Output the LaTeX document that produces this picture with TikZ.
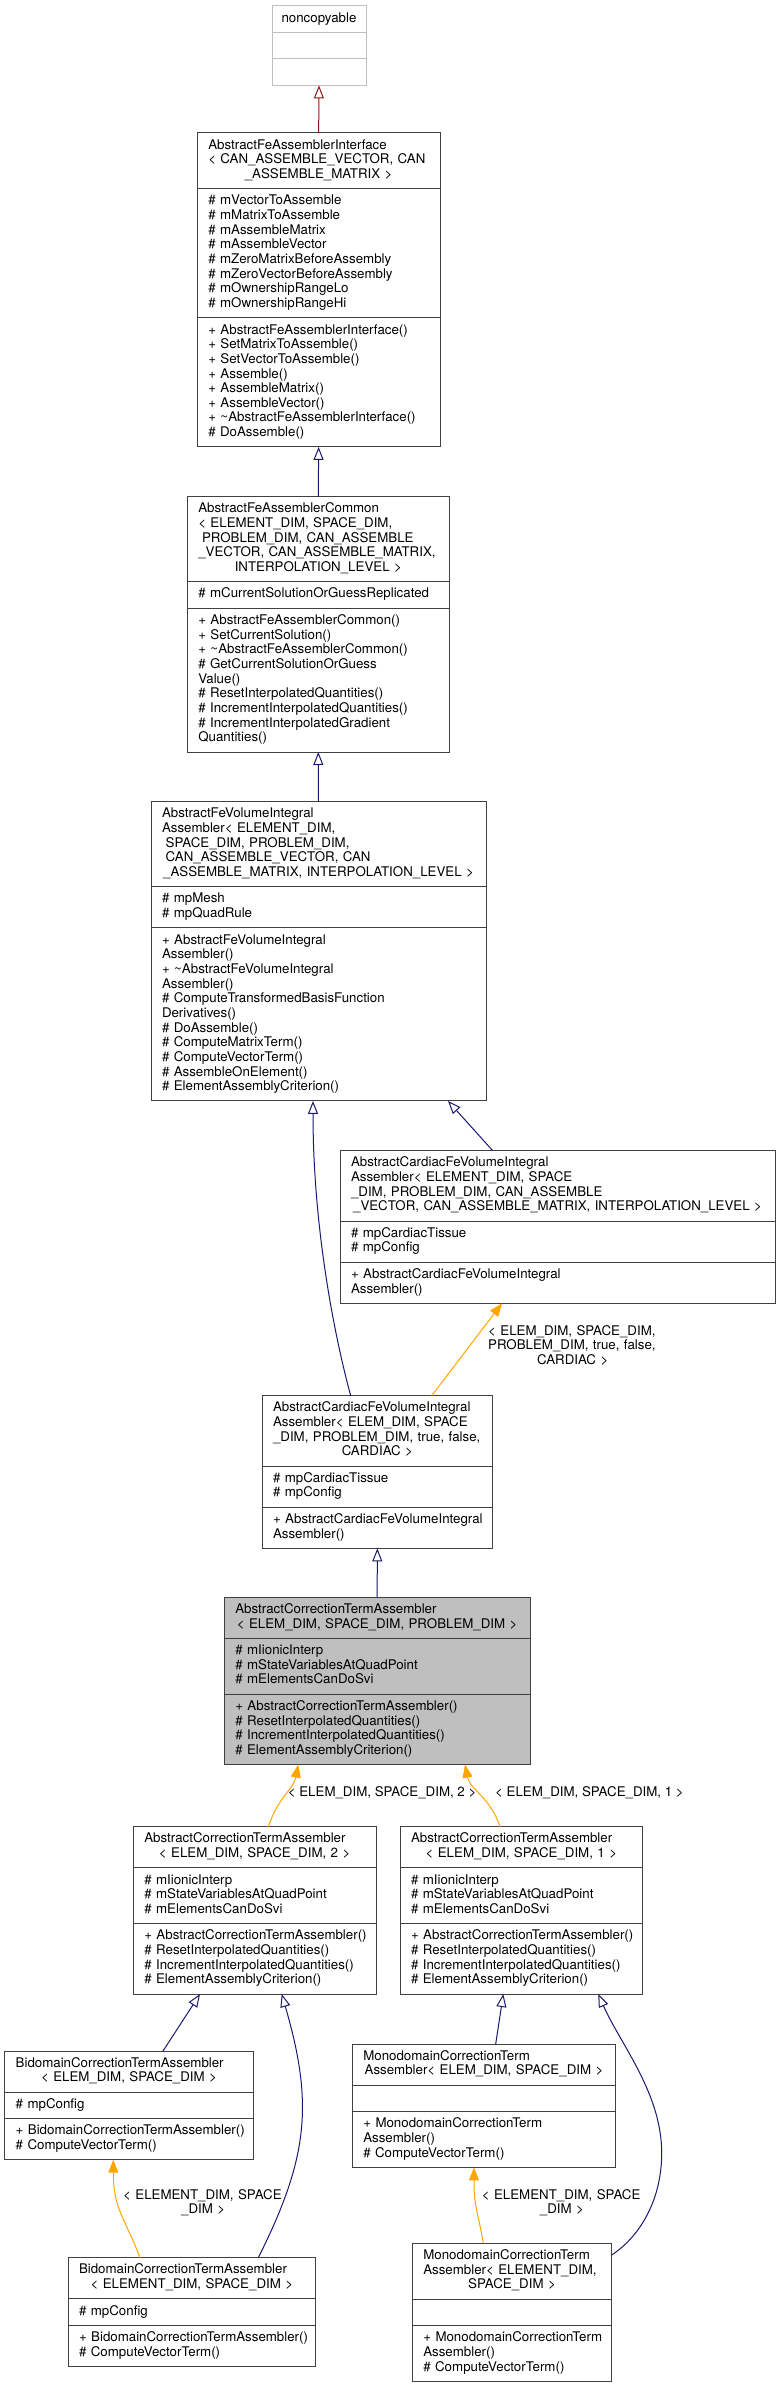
\documentclass[tikz,border=0pt]{standalone}
\usepackage{fontspec}
\setmainfont{TeX Gyre Heros}
\usetikzlibrary{shapes.multipart, arrows.meta}

\definecolor{boxgrey}{HTML}{404040}
\definecolor{lightgrey}{HTML}{BFBFBF}
\definecolor{pubblue}{HTML}{191970}
\definecolor{privred}{HTML}{8B1A1A}
\definecolor{tmplorange}{HTML}{FFA500}

\newcommand{\classfont}{\fontsize{13.3}{14.66}\selectfont}
\newcommand{\fldb}{\rightskip=-40pt plus 1fil\relax\strut}
\newcommand{\ctrline}[1]{\makebox[\hsize]{#1}}
\newcommand{\indsp}{\hspace*{3.7pt}}

\tikzstyle{classbox} = [rectangle split, rectangle split parts=3, draw=boxgrey, line width=1pt, inner xsep=11pt, inner ysep=5.4pt, outer sep=0pt, align=left, font=\classfont, anchor=north west]
\tikzstyle{inherit} = [draw=pubblue, line width=1pt, -{Triangle[open, length=13pt, width=10pt]}]
\tikzstyle{privinherit} = [inherit, draw=privred]
\tikzstyle{instance} = [draw=tmplorange, line width=1pt, -{Triangle[length=13pt, width=10pt, fill=tmplorange]}]
\tikzstyle{edgelabel} = [font=\classfont, inner sep=0pt, align=left, anchor=north west]
\tikzset{boxw/.code={\pgfmathsetmacro\classtw{#1-22}\edef\classtmp{\noexpand\pgfkeysalso{text width=\classtw pt}}\classtmp}}

\begin{document}
\begin{tikzpicture}[x=1pt, y=-1pt]
			\useasboundingbox (0,0) rectangle (780,2384);

			\node (nc) [classbox, draw=lightgrey, align=center, text width=76pt, inner xsep=9pt] at (272,6) {\strut noncopyable\strut\nodepart{two}\strut\nodepart{three}\strut};
			\node (iface) [classbox, boxw=242.7] at (197.3,133) {\fldb AbstractFeAssemblerInterface\\< CAN\_ASSEMBLE\_VECTOR, CAN\\\ctrline{\_ASSEMBLE\_MATRIX >}\strut
				\nodepart{two}\fldb\# mVectorToAssemble\\\# mMatrixToAssemble\\\# mAssembleMatrix\\\# mAssembleVector\\\# mZeroMatrixBeforeAssembly\\\# mZeroVectorBeforeAssembly\\\# mOwnershipRangeLo\\\# mOwnershipRangeHi\strut
				\nodepart{three}\fldb + AbstractFeAssemblerInterface()\\+ SetMatrixToAssemble()\\+ SetVectorToAssemble()\\+ Assemble()\\+ AssembleMatrix()\\+ AssembleVector()\\+ \textasciitilde AbstractFeAssemblerInterface()\\\# DoAssemble()\strut};
			\node (common) [classbox, boxw=262] at (187.3,496.7) {\fldb AbstractFeAssemblerCommon\\< ELEMENT\_DIM, SPACE\_DIM,\\\indsp PROBLEM\_DIM, CAN\_ASSEMBLE\\\_VECTOR, CAN\_ASSEMBLE\_MATRIX,\\\ctrline{INTERPOLATION\_LEVEL >}\strut
				\nodepart{two}\fldb\# mCurrentSolutionOrGuessReplicated\strut
				\nodepart{three}\fldb + AbstractFeAssemblerCommon()\\+ SetCurrentSolution()\\+ \textasciitilde AbstractFeAssemblerCommon()\\\# GetCurrentSolutionOrGuess\\Value()\\\# ResetInterpolatedQuantities()\\\# IncrementInterpolatedQuantities()\\\# IncrementInterpolatedGradient\\Quantities()\strut};
			\node (volint) [classbox, boxw=335] at (151,801.7) {\fldb AbstractFeVolumeIntegral\\Assembler< ELEMENT\_DIM,\\\indsp SPACE\_DIM, PROBLEM\_DIM,\\\indsp CAN\_ASSEMBLE\_VECTOR, CAN\\\ctrline{\_ASSEMBLE\_MATRIX, INTERPOLATION\_LEVEL >}\strut
				\nodepart{two}\fldb\# mpMesh\\\# mpQuadRule\strut
				\nodepart{three}\fldb + AbstractFeVolumeIntegral\\Assembler()\\+ \textasciitilde AbstractFeVolumeIntegral\\Assembler()\\\# ComputeTransformedBasisFunction\\Derivatives()\\\# DoAssemble()\\\# ComputeMatrixTerm()\\\# ComputeVectorTerm()\\\# AssembleOnElement()\\\# ElementAssemblyCriterion()\strut};
			\node (cardvol) [classbox, boxw=435] at (340,1150.7) {\fldb AbstractCardiacFeVolumeIntegral\\Assembler< ELEMENT\_DIM, SPACE\\\_DIM, PROBLEM\_DIM, CAN\_ASSEMBLE\\\ctrline{\_VECTOR, CAN\_ASSEMBLE\_MATRIX, INTERPOLATION\_LEVEL >}\strut
				\nodepart{two}\fldb\# mpCardiacTissue\\\# mpConfig\strut
				\nodepart{three}\fldb + AbstractCardiacFeVolumeIntegral\\Assembler()\strut};
			\node (cardinst) [classbox, boxw=230.7] at (262,1395.7) {\fldb AbstractCardiacFeVolumeIntegral\\Assembler< ELEM\_DIM, SPACE\\\_DIM, PROBLEM\_DIM, true, false,\\\ctrline{CARDIAC >}\strut
				\nodepart{two}\fldb\# mpCardiacTissue\\\# mpConfig\strut
				\nodepart{three}\fldb + AbstractCardiacFeVolumeIntegral\\Assembler()\strut};
			\node (ct) [classbox, boxw=305.7, fill=lightgrey] at (224.3,1597.3) {\fldb AbstractCorrectionTermAssembler\\\ctrline{< ELEM\_DIM, SPACE\_DIM, PROBLEM\_DIM >}\strut
				\nodepart{two}\fldb\# mIionicInterp\\\# mStateVariablesAtQuadPoint\\\# mElementsCanDoSvi\strut
				\nodepart{three}\fldb + AbstractCorrectionTermAssembler()\\\# ResetInterpolatedQuantities()\\\# IncrementInterpolatedQuantities()\\\# ElementAssemblyCriterion()\strut};
			\node (cttwo) [classbox, boxw=242.7] at (133.3,1826.7) {\fldb AbstractCorrectionTermAssembler\\\ctrline{< ELEM\_DIM, SPACE\_DIM, 2 >}\strut
				\nodepart{two}\fldb\# mIionicInterp\\\# mStateVariablesAtQuadPoint\\\# mElementsCanDoSvi\strut
				\nodepart{three}\fldb + AbstractCorrectionTermAssembler()\\\# ResetInterpolatedQuantities()\\\# IncrementInterpolatedQuantities()\\\# ElementAssemblyCriterion()\strut};
			\node (ctone) [classbox, boxw=242.7] at (400,1826.7) {\fldb AbstractCorrectionTermAssembler\\\ctrline{< ELEM\_DIM, SPACE\_DIM, 1 >}\strut
				\nodepart{two}\fldb\# mIionicInterp\\\# mStateVariablesAtQuadPoint\\\# mElementsCanDoSvi\strut
				\nodepart{three}\fldb + AbstractCorrectionTermAssembler()\\\# ResetInterpolatedQuantities()\\\# IncrementInterpolatedQuantities()\\\# ElementAssemblyCriterion()\strut};
			\node (bidom) [classbox, boxw=248.6] at (4.7,2051) {\fldb BidomainCorrectionTermAssembler\\\ctrline{< ELEM\_DIM, SPACE\_DIM >}\strut
				\nodepart{two}\fldb\# mpConfig\strut
				\nodepart{three}\fldb + BidomainCorrectionTermAssembler()\\\# ComputeVectorTerm()\strut};
			\node (monodom) [classbox, boxw=263.4] at (352.3,2044) {\fldb MonodomainCorrectionTerm\\\ctrline{Assembler< ELEM\_DIM, SPACE\_DIM >}\strut
				\nodepart{two}\strut
				\nodepart{three}\fldb + MonodomainCorrectionTerm\\Assembler()\\\# ComputeVectorTerm()\strut};
			\node (bidinst) [classbox, boxw=247.7] at (68,2257.7) {\fldb BidomainCorrectionTermAssembler\\\ctrline{< ELEMENT\_DIM, SPACE\_DIM >}\strut
				\nodepart{two}\fldb\# mpConfig\strut
				\nodepart{three}\fldb + BidomainCorrectionTermAssembler()\\\# ComputeVectorTerm()\strut};
			\node (monoinst) [classbox, boxw=199.4] at (412.3,2243.3) {\fldb MonodomainCorrectionTerm\\Assembler< ELEMENT\_DIM,\\\ctrline{SPACE\_DIM >}\strut
				\nodepart{two}\strut
				\nodepart{three}\fldb + MonodomainCorrectionTerm\\Assembler()\\\# ComputeVectorTerm()\strut};

			\node (cardlbl) [edgelabel, text width=169pt] at (488,1324.7) {\fldb< ELEM\_DIM, SPACE\_DIM,\\PROBLEM\_DIM, true, false,\\\ctrline{CARDIAC >}\strut};
			\node (twolbl) [edgelabel, anchor=base west] at (287.7,1796.5) {< ELEM\_DIM, SPACE\_DIM, 2 >};
			\node (onelbl) [edgelabel, anchor=base west] at (495,1796.5) {< ELEM\_DIM, SPACE\_DIM, 1 >};
			\node (bidlbl) [edgelabel, text width=160pt] at (123,2188.6) {\fldb< ELEMENT\_DIM, SPACE\\\ctrline{\_DIM >}\strut};
			\node (monolbl) [edgelabel, text width=160pt] at (481.7,2188.6) {\fldb< ELEMENT\_DIM, SPACE\\\ctrline{\_DIM >}\strut};
			\coordinate (monobend) at (661.7,2153);

			\draw [privinherit] (iface.north) -- (nc.south);
			\draw [inherit] (common.north) -- (iface.south);
			\draw [inherit] (volint.north) -- (common.south);
			\draw [inherit] ([xshift=152.7pt]cardvol.north west) -- ([xshift=297pt]volint.south west);
			\draw [inherit] ([xshift=88.7pt]cardinst.north west) .. controls +(-15,-55) and +(0,130) .. ([xshift=162pt]volint.south west);
			\draw [instance] ([xshift=169.7pt]cardinst.north west) -- ([xshift=162pt]cardvol.south west);
			\draw [inherit] (ct.north) -- (cardinst.south);
			\draw [instance] ([xshift=135pt]cttwo.north west) .. controls +(10,-30) and +(-5,25) .. ([xshift=74pt]ct.south west);
			\draw [instance] ([xshift=100pt]ctone.north west) .. controls +(-10,-30) and +(5,25) .. ([xshift=240.7pt]ct.south west);
			\draw [inherit] ([xshift=158.3pt]bidom.north west) -- ([xshift=66.7pt]cttwo.south west);
			\draw [inherit] ([xshift=190.3pt]bidinst.north west) .. controls +(50,-100) and +(32,110) .. ([xshift=148.4pt]cttwo.south west);
			\draw [instance] ([xshift=72pt]bidinst.north west) .. controls +(-15,-40) and +(0,50) .. ([xshift=108.6pt]bidom.south west);
			\draw [inherit] ([xshift=143.4pt]monodom.north west) -- ([xshift=103.3pt]ctone.south west);
			\draw [inherit] ([yshift=-11.7pt]monoinst.north east) .. controls +(30,-20) and +(0,45) .. (monobend) .. controls +(0,-60) and +(22,50) .. ([xshift=198.3pt]ctone.south west);
			\draw [instance] ([xshift=71pt]monoinst.north west) .. controls +(-6,-35) and +(0,40) .. ([xshift=121.7pt]monodom.south west);
\end{tikzpicture}
\end{document}
